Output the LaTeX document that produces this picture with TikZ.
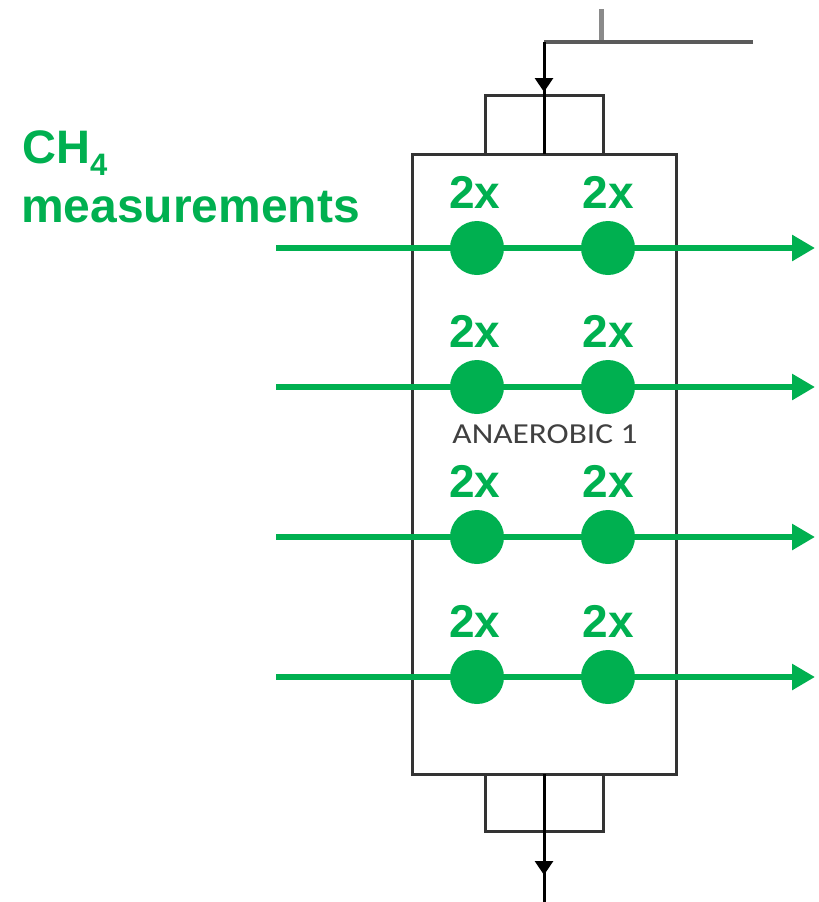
\documentclass[tikz,border=0pt]{standalone}
\usepackage{fontspec}
\setmainfont{Liberation Sans}
\newfontfamily\calib{Carlito}
\usetikzlibrary{arrows.meta}
\definecolor{mgreen}{HTML}{00B050}
\definecolor{boxgray}{HTML}{333333}
\definecolor{feedgray}{HTML}{5A5A5A}
\definecolor{lightgray2}{HTML}{8A8A8A}
\definecolor{txtgray}{HTML}{404040}
\tikzset{
  greenline/.style={draw=mgreen,line width=6pt,-{Triangle[length=23pt,width=25pt]}},
  dot/.style={circle,fill=mgreen,minimum size=54pt,inner sep=0pt},
  twox/.style={text=mgreen,font=\fontsize{46}{46}\selectfont\bfseries,anchor=base,inner sep=0pt},
  boxline/.style={draw=boxgray,line width=3pt},
  flowline/.style={draw=black,line width=3pt},
  flowtip/.style={draw=black,line width=3pt,-{Triangle[length=14pt,width=18pt]}}
}
\begin{document}
\begin{tikzpicture}[x=1pt,y=-1pt]
\useasboundingbox (0,0) rectangle (819,902);
% reactor body
\draw[boxline] (412,154) rectangle (676,774);
\draw[boxline] (485,154) -- (485,95) -- (603,95) -- (603,154);
\draw[boxline] (485,774) -- (485,831) -- (603,831) -- (603,774);
% feed
\coordinate (g1) at (601,9);
\coordinate (g2) at (601,42);
\coordinate (f0) at (753,42);
\coordinate (f1) at (544,42);
\coordinate (f2) at (544,92);
\coordinate (f3) at (544,154);
\draw[draw=lightgray2,line width=5pt] (g1) -- (g2);
\draw[draw=feedgray,line width=4pt] (f0) -- (f1);
\draw[flowline] (f1) -- (f3);
\draw[flowtip] (f1) -- (f2);
% outlet
\coordinate (o1) at (544,774);
\coordinate (o2) at (544,875);
\coordinate (o3) at (544,902);
\draw[flowline] (o1) -- (o3);
\draw[flowtip] (o1) -- (o2);
% label
\node[text=txtgray,font=\calib\fontsize{29}{29}\selectfont,anchor=base,inner sep=0pt] (lab) at (545,443) {\scalebox{1.15}[1]{ANAEROBIC 1}};
% CH4 label
\node[text=mgreen,font=\fontsize{47}{47}\selectfont\bfseries,anchor=base west,inner sep=0pt] (ch) at (22,163) {CH{\fontsize{31}{31}\selectfont\raisebox{-12pt}{4}}};
\node[text=mgreen,font=\fontsize{48}{48}\selectfont\bfseries,anchor=base west,inner sep=0pt] (meas) at (21,222) {measurements};
% measurement rows
\foreach \i/\y in {1/248,2/387,3/537,4/677}{
  \coordinate (s\i) at (276,\y);
  \coordinate (e\i) at (815,\y);
  \draw[greenline] (s\i) -- (e\i);
  \node[dot] (a\i) at (477,\y) {};
  \node[dot] (b\i) at (608,\y) {};
  \node[twox] (ta\i) at (475,\y-40) {2x};
  \node[twox] (tb\i) at (608,\y-40) {2x};
}
\end{tikzpicture}
\end{document}
